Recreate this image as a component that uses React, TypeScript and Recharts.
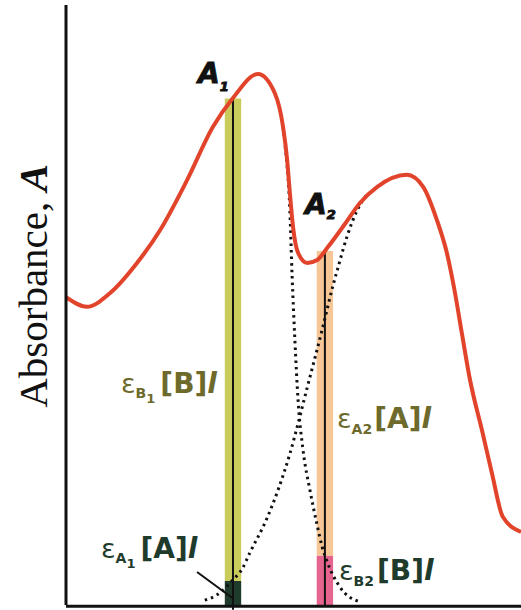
import { ComposedChart, Line, XAxis, YAxis, ReferenceArea, ReferenceLine } from 'recharts';

// measured total absorbance of the mixture (red curve)
const totalX = [0, 4.6, 9.7, 15.6, 20.7, 26.6, 32.3, 36.7, 42.2, 45.9, 47.7, 48.6, 49.2, 49.9, 51.0, 53.0, 55.2, 57.6, 61.3, 64.6, 68.4, 74.9, 78.5, 81.5, 83.7, 85.5, 87.0, 88.8, 91.4, 93.6, 96.0, 100];
const totalY = [51.3, 49.7, 52.0, 57.0, 62.5, 70.8, 79.7, 84.5, 88.5, 85.3, 79.7, 74.2, 68.7, 63.0, 58.7, 57.0, 57.5, 59.7, 63.5, 67.0, 69.7, 71.7, 69.7, 64.2, 58.7, 52.0, 45.3, 37.5, 29.2, 22.0, 14.7, 12.2];

// component B spectrum (dotted, falling)
const specBX = [47.7, 48.1, 49.2, 49.7, 50.3, 51.0, 52.1, 53.6, 55.2, 56.3, 57.4, 60.2, 64.6];
const specBY = [79.7, 77.0, 65.8, 54.7, 44.2, 34.2, 25.8, 19.2, 13.3, 9.7, 7.2, 3.0, 0.5];

// component A spectrum (dotted, rising)
const specAX = [30.5, 33.2, 36.7, 38.7, 40.4, 44.2, 49.2, 53.0, 56.5, 58.7, 59.8, 61.8, 64.0, 66.2];
const specAY = [0.8, 1.7, 4.2, 6.0, 8.7, 14.5, 25.2, 36.2, 46.5, 53.3, 56.3, 61.5, 65.8, 68.5];

// the two chosen wavelengths and the contributions at each
const wavelengths = [36.7, 56.9];
const contribA = [4.0, 50.8];
const contribB = [80.4, 8.2];

const toPoints = (xs: number[], ys: number[]) => xs.map((x, i) => ({ x, y: ys[i] }));

const totalData = toPoints(totalX, totalY);
const specAData = toPoints(specAX, specAY);
const specBData = toPoints(specBX, specBY);

const HALF = 1.8;
const OLIVE = '#6d6a2c';
const DARK = '#1f3b2c';
const SANS = "'DejaVu Sans', sans-serif";

export default function App() {
  const [l1, l2] = wavelengths;
  const top1 = contribA[0] + contribB[0];
  const top2 = contribA[1] + contribB[1];

  return (
    <div style={{ position: 'absolute', left: 0, top: 0, width: 521, height: 610, background: '#fff' }}>
      <ComposedChart width={521} height={610} margin={{ top: 5, right: 0, bottom: 5, left: 66 }}>
        <XAxis type="number" dataKey="x" domain={[0, 100]} allowDataOverflow hide />
        <YAxis type="number" domain={[0, 100]} allowDataOverflow hide />

        {/* stacked contributions at lambda 1: A at bottom, B on top */}
        <ReferenceArea x1={l1 - HALF} x2={l1 + HALF} y1={contribA[0]} y2={top1} fill="#c9cc5c" fillOpacity={1} stroke="none" />
        <ReferenceArea x1={l1 - HALF} x2={l1 + HALF} y1={0} y2={contribA[0]} fill={DARK} fillOpacity={1} stroke="none" />
        {/* lambda 2: B at bottom, A on top */}
        <ReferenceArea x1={l2 - HALF} x2={l2 + HALF} y1={contribB[1]} y2={top2} fill="#f6c696" fillOpacity={1} stroke="none" />
        <ReferenceArea x1={l2 - HALF} x2={l2 + HALF} y1={0} y2={contribB[1]} fill="#e6658e" fillOpacity={1} stroke="none" />

        <ReferenceLine segment={[{ x: l1, y: -0.8 }, { x: l1, y: top1 + 0.3 }]} stroke="#111" strokeWidth={2} ifOverflow="visible" />
        <ReferenceLine segment={[{ x: l2, y: 0 }, { x: l2, y: top2 }]} stroke="#111" strokeWidth={2} ifOverflow="visible" />
        <ReferenceLine segment={[{ x: 28.8, y: 5.5 }, { x: l1 - 0.2, y: 1.2 }]} stroke="#111" strokeWidth={2} ifOverflow="visible" />

        <Line data={specAData} dataKey="y" type="monotone" stroke="#111" strokeWidth={3} strokeDasharray="2.5 4" dot={false} isAnimationActive={false} />
        <Line data={specBData} dataKey="y" type="monotone" stroke="#111" strokeWidth={3} strokeDasharray="2.5 4" dot={false} isAnimationActive={false} />
        <Line data={totalData} dataKey="y" type="monotone" stroke="#e2432b" strokeWidth={4} dot={false} isAnimationActive={false} />

        {/* axes frame */}
        <ReferenceLine x={0} stroke="#111" strokeWidth={3} ifOverflow="visible" />
        <ReferenceLine segment={[{ x: 0, y: -0.2 }, { x: 100, y: -0.2 }]} stroke="#111" strokeWidth={3} ifOverflow="visible" />
      </ComposedChart>

      <svg width={521} height={610} style={{ position: 'absolute', left: 0, top: 0, pointerEvents: 'none' }}>
        <text x={47} y={286} transform="rotate(-90 47 286)" textAnchor="middle" fontFamily="'Liberation Serif', serif" fontSize={41} fill="#111">
          Absorbance, <tspan fontWeight="bold" fontStyle="italic">A</tspan>
        </text>

        <g fontFamily={SANS} fill="#111" stroke="#111" strokeWidth={1}>
          <text x={198} y={83} fontSize={28} fontWeight="bold" fontStyle="italic">A<tspan fontSize={13} dy={8} dx={0}>1</tspan></text>
          <text x={305} y={214} fontSize={28} fontWeight="bold" fontStyle="italic">A<tspan fontSize={13} dy={5} dx={0}>2</tspan></text>
        </g>

        <g fontFamily={SANS} fill={OLIVE}>
          <text x={121} y={393}>
            <tspan fontSize={27}>ε</tspan>
            <tspan fontSize={14} fontWeight="bold" dy={5}>B</tspan>
            <tspan fontSize={13} fontWeight="bold" dy={5}>1</tspan>
            <tspan fontSize={28} fontWeight="bold" dy={-10} dx={5}>[B]</tspan>
            <tspan fontSize={28} fontWeight="bold" fontStyle="italic">l</tspan>
          </text>
          <text x={337} y={428}>
            <tspan fontSize={27}>ε</tspan>
            <tspan fontSize={14} fontWeight="bold" dy={6}>A2</tspan>
            <tspan fontSize={28} fontWeight="bold" dy={-6} dx={2}>[A]</tspan>
            <tspan fontSize={28} fontWeight="bold" fontStyle="italic">l</tspan>
          </text>
        </g>

        <g fontFamily={SANS} fill={DARK}>
          <text x={101} y={558}>
            <tspan fontSize={27}>ε</tspan>
            <tspan fontSize={14} fontWeight="bold" dy={5}>A</tspan>
            <tspan fontSize={13} fontWeight="bold" dy={5}>1</tspan>
            <tspan fontSize={28} fontWeight="bold" dy={-10} dx={5}>[A]</tspan>
            <tspan fontSize={28} fontWeight="bold" fontStyle="italic">l</tspan>
          </text>
          <text x={339} y={580}>
            <tspan fontSize={27}>ε</tspan>
            <tspan fontSize={14} fontWeight="bold" dy={6}>B2</tspan>
            <tspan fontSize={28} fontWeight="bold" dy={-6} dx={3}>[B]</tspan>
            <tspan fontSize={28} fontWeight="bold" fontStyle="italic">l</tspan>
          </text>
        </g>
      </svg>
    </div>
  );
}
